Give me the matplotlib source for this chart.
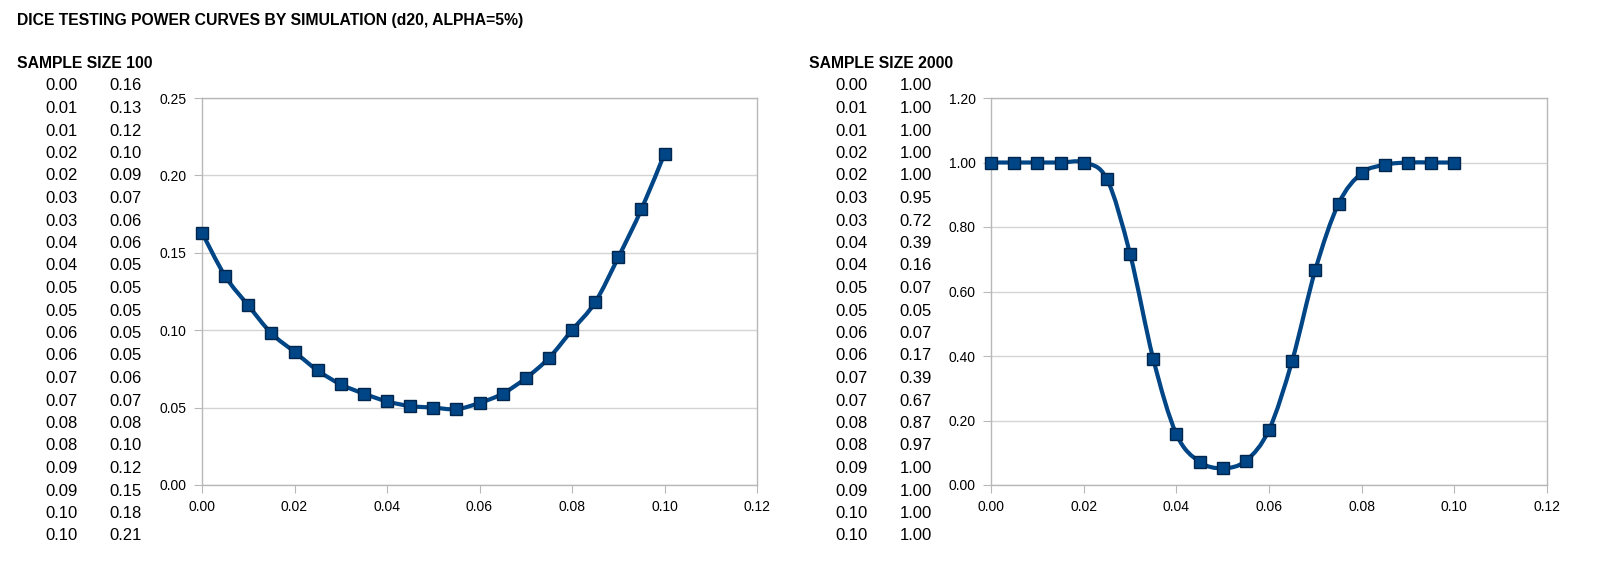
import matplotlib
matplotlib.use('Agg')
import matplotlib.pyplot as plt
from matplotlib.path import Path
from matplotlib.patches import PathPatch
import numpy as np

plt.rcParams['font.family'] = ['Liberation Sans', 'DejaVu Sans']

# Data
p_bias = [0.000, 0.005, 0.010, 0.015, 0.020, 0.025, 0.030, 0.035, 0.040, 0.045, 0.050,
          0.055, 0.060, 0.065, 0.070, 0.075, 0.080, 0.085, 0.090, 0.095, 0.100]
power_100 = [0.163, 0.135, 0.116, 0.098, 0.086, 0.074, 0.065, 0.059, 0.054, 0.051, 0.050,
             0.049, 0.053, 0.059, 0.069, 0.082, 0.100, 0.118, 0.147, 0.178, 0.214]
power_2000 = [1.000, 1.000, 1.000, 1.000, 1.000, 0.949, 0.717, 0.392, 0.158, 0.072, 0.052,
              0.075, 0.171, 0.385, 0.667, 0.872, 0.967, 0.993, 1.000, 1.000, 1.000]

# Spreadsheet columns next to the charts (as displayed, 2 decimals)
table_p = [0.00, 0.01, 0.01, 0.02, 0.02, 0.03, 0.03, 0.04, 0.04, 0.05, 0.05,
           0.06, 0.06, 0.07, 0.07, 0.08, 0.08, 0.09, 0.09, 0.10, 0.10]
table_100 = [0.16, 0.13, 0.12, 0.10, 0.09, 0.07, 0.06, 0.06, 0.05, 0.05, 0.05,
             0.05, 0.05, 0.06, 0.07, 0.08, 0.10, 0.12, 0.15, 0.18, 0.21]
table_2000 = [1.00, 1.00, 1.00, 1.00, 1.00, 0.95, 0.72, 0.39, 0.16, 0.07, 0.05,
              0.07, 0.17, 0.39, 0.67, 0.87, 0.97, 1.00, 1.00, 1.00, 1.00]

x_ticks = [0.00, 0.02, 0.04, 0.06, 0.08, 0.10, 0.12]
y_ticks_100 = [0.00, 0.05, 0.10, 0.15, 0.20, 0.25]
y_ticks_2000 = [0.00, 0.20, 0.40, 0.60, 0.80, 1.00, 1.20]

title = 'DICE TESTING POWER CURVES BY SIMULATION (d20, ALPHA=5%)'
W, H = 1600, 569
BLUE = '#004586'
GRID = '#d4d4d4'
FRAME = '#b8b8b8'


def px(x, y):
    return x / W, 1 - y / H


def smooth_path(xs, ys):
    # Catmull-Rom style cubic bezier through the points (like the spreadsheet spline)
    pts = np.column_stack([xs, ys])
    verts = [pts[0]]
    codes = [Path.MOVETO]
    n = len(pts)
    for i in range(n - 1):
        p0 = pts[max(i - 1, 0)]
        p1 = pts[i]
        p2 = pts[i + 1]
        p3 = pts[min(i + 2, n - 1)]
        verts += [p1 + (p2 - p0) / 6, p2 - (p3 - p1) / 6, p2]
        codes += [Path.CURVE4] * 3
    return Path(verts, codes)


fig = plt.figure(figsize=(W / 100, H / 100), dpi=100)

fig.text(*px(17, 20), title, ha='left', va='center', fontsize=11.3, fontweight='bold')


def draw_table(x_col1, x_col2, col1, col2):
    for i, (a, b) in enumerate(zip(col1, col2)):
        y = 86 + 22.5 * i
        fig.text(*px(x_col1, y), f'{a:.2f}', ha='right', va='center', fontsize=12)
        fig.text(*px(x_col2, y), f'{b:.2f}', ha='right', va='center', fontsize=12)


def draw_chart(rect, ys, yticks):
    ax = fig.add_axes(rect)
    ax.set_xlim(0, 0.12)
    ax.set_ylim(yticks[0], yticks[-1])
    ax.set_xticks(x_ticks)
    ax.set_yticks(yticks)
    ax.set_xticklabels([f'{t:.2f}' for t in x_ticks])
    ax.set_yticklabels([f'{t:.2f}' for t in yticks])
    ax.yaxis.grid(True, color=GRID, lw=1)
    ax.set_axisbelow(True)
    for s in ax.spines.values():
        s.set_color(FRAME)
        s.set_linewidth(1)
    ax.tick_params(direction='out', length=6, color=FRAME, labelsize=10, pad=5)
    patch = PathPatch(smooth_path(p_bias, ys), facecolor='none', edgecolor=BLUE,
                      lw=3, capstyle='round', joinstyle='round', zorder=3, clip_on=False)
    ax.add_patch(patch)
    ax.plot(p_bias, ys, linestyle='none', marker='s', markersize=8.5, clip_on=False,
            markerfacecolor=BLUE, markeredgecolor='#00264d', markeredgewidth=1, zorder=4)
    return ax


# left block: sample size 100
fig.text(*px(17, 63), 'SAMPLE SIZE 100', ha='left', va='center', fontsize=11.3, fontweight='bold')
draw_table(78, 142, table_p, table_100)
draw_chart([202 / W, 1 - 485 / H, (757 - 202) / W, (485 - 98) / H], power_100, y_ticks_100)

# right block: sample size 2000
fig.text(*px(809, 64), 'SAMPLE SIZE 2000', ha='left', va='center', fontsize=11.3, fontweight='bold')
draw_table(868, 932, table_p, table_2000)
draw_chart([991 / W, 1 - 485 / H, (1547 - 991) / W, (485 - 98) / H], power_2000, y_ticks_2000)

fig.savefig('out.png', dpi=100)
